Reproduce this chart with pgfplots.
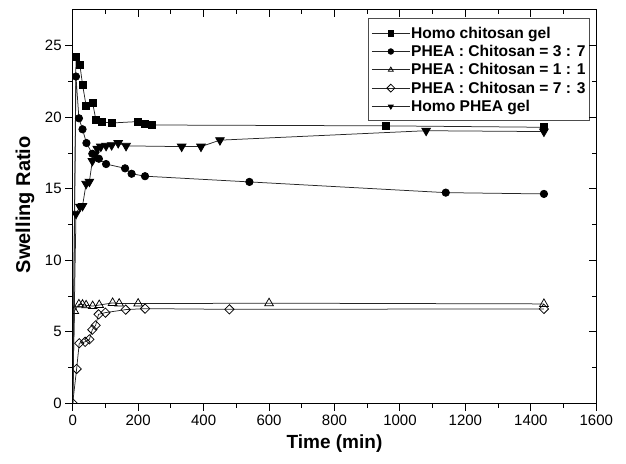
\documentclass[border=0pt]{standalone}
\usepackage{fontspec}
\setmainfont{Liberation Sans}
\usepackage{pgfplots}
\pgfplotsset{compat=1.18}
\begin{document}
\begin{tikzpicture}
\path[use as bounding box] (-72.7pt,-59.7pt) rectangle (553.3pt,403.3pt);
\pgfplotsset{
  common/.style={
    scale only axis, width=523.6pt, height=394pt,
    at={(0pt,0pt)}, anchor=south west,
    xmin=0, xmax=1600, ymin=0, ymax=27.55,
    xtick={0,200,...,1600}, minor x tick num=1,
    ytick={0,5,...,25}, minor y tick num=1,
    axis line style={line width=1.2pt},
    major tick length=7.5pt, minor tick length=4.5pt,
    every tick/.style={black, line width=1.0pt},
    /pgf/number format/assume math mode=true,
    /pgf/number format/1000 sep={},
    tick label style={font=\fontsize{15}{15}\selectfont},
  }
}
\begin{axis}[common, tick align=outside, xtick pos=left, ytick pos=left,
  xticklabel style={yshift=-1pt},
  clip marker paths=true,
  xlabel={\bfseries Time (min)}, ylabel={\bfseries Swelling Ratio},
  xlabel style={font=\fontsize{19}{19}\selectfont, at={(axis description cs:0.5,-0.103)}, anchor=center},
  ylabel style={font=\fontsize{20}{20}\selectfont, at={(axis description cs:-0.091,0.504)}, anchor=center},
  legend style={at={(axis description cs:0.988,0.977)}, anchor=north east,
    draw=black!70, line width=0.9pt, font=\bfseries\fontsize{15.6}{15.6}\selectfont,
    row sep=3.5pt, inner xsep=3pt, inner ysep=7pt, nodes={inner sep=1pt}},
  legend cell align=left,
  legend image code/.code={\draw[mark repeat=2,mark phase=2] plot coordinates {(0pt,0pt) (19pt,0pt) (38pt,0pt)};},
  every legend image post/.style={mark size=2.8pt},
  every axis plot/.append style={black!85, line width=0.75pt},
]
\addplot[mark=square*, mark size=3.5pt, mark options={black, fill=black}, mark repeat=1, mark phase=2] coordinates {
(0,0) (10,24.2) (22,23.65) (30,22.3) (41,20.8) (61,21.0) (71,19.8) (89,19.67) (119,19.6) (200,19.7) (221,19.55) (241,19.46) (958,19.4) (1440,19.3)};
\addlegendentry{Homo chitosan gel}
\addplot[mark=*, mark size=3.7pt, mark options={black, fill=black}, mark repeat=1, mark phase=2] coordinates {
(0,0) (10,22.85) (19,19.93) (30,19.16) (42,18.2) (60,17.45) (80,17.1) (102,16.73) (160,16.43) (180,16.05) (221,15.88) (540,15.48) (1140,14.73) (1440,14.64)};
\addlegendentry{PHEA : Chitosan = 3 : 7}
\addplot[mark=triangle, mark size=5pt, mark options={black, fill=white}, mark repeat=1, mark phase=2] coordinates {
(0,0) (5,6.45) (19,6.92) (30,6.9) (41,6.85) (61,6.8) (81,6.87) (122,7.02) (142,6.97) (200,6.97) (600,7.0) (1440,6.95)};
\addlegendentry{PHEA : Chitosan = 1 : 1}
\addplot[mark=square, mark size=3.3pt, mark options={black, fill=white, rotate=45}] coordinates {
(0,0) (12,2.4) (20,4.2) (38,4.3) (51,4.47) (60,5.15) (70,5.45) (79,6.22) (100,6.34) (162,6.55) (221,6.62) (479,6.57) (1440,6.6)};
\addlegendentry{PHEA : Chitosan = 7 : 3}
\addplot[mark=triangle*, mark size=5pt, mark options={black, fill=black, rotate=180}, mark repeat=1, mark phase=2] coordinates {
(0,0) (10,13.25) (22,13.75) (30,13.8) (41,15.35) (51,15.5) (60,16.95) (68,17.4) (75,17.8) (86,17.95) (102,18.0) (119,18.05) (139,18.2) (163,18.0) (333,17.95) (392,17.95) (450,18.4) (1080,19.06) (1440,19.0)};
\addlegendentry{Homo PHEA gel}
\end{axis}
\begin{axis}[common, tick align=inside, xtick pos=right, ytick pos=right,
  xticklabels={}, yticklabels={}]
\end{axis}
\end{tikzpicture}
\end{document}
